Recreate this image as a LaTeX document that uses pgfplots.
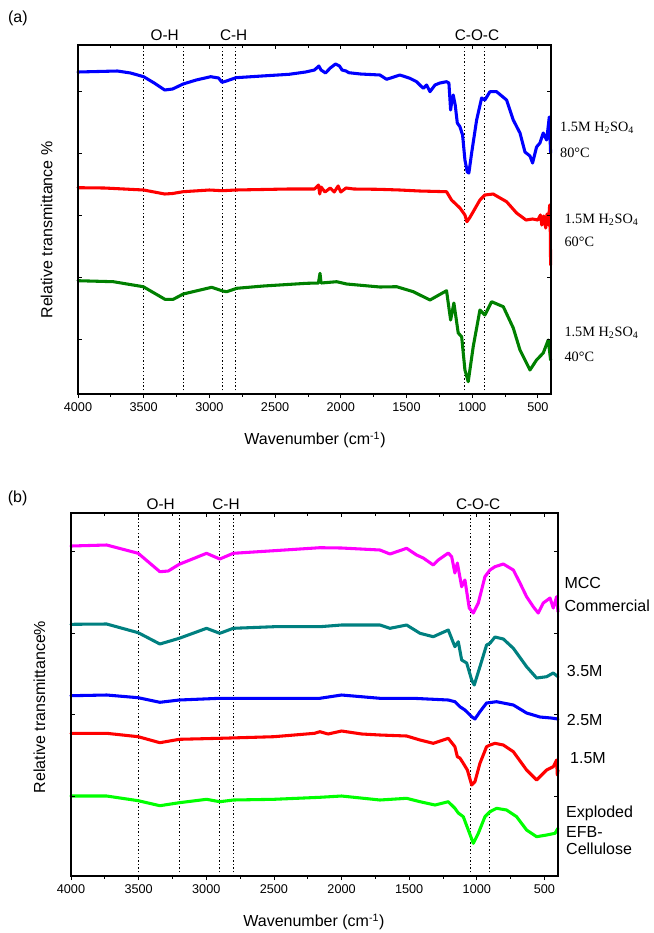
\documentclass[border=0pt]{standalone}
\usepackage{fontspec}
\setmainfont{Liberation Sans}
\newfontfamily\seriffont{Liberation Serif}
\usepackage{pgfplots}
\pgfplotsset{compat=1.18}

\definecolor{cblue}{RGB}{0,0,255}
\definecolor{cred}{RGB}{255,0,0}
\definecolor{cdgreen}{RGB}{0,128,0}
\definecolor{cmag}{RGB}{255,0,255}
\definecolor{cteal}{RGB}{0,128,128}
\definecolor{clgreen}{RGB}{0,255,0}

\pgfplotsset{
  ftir/.style={
    scale only axis, x dir=reverse, xmin=400, xmax=4000, ymin=0,
    clip=false,
    axis line style={line width=0.8pt},
    every tick/.style={black, line width=0.6pt},
    major tick length=3pt, minor tick length=2pt,
    tick label style={font=\fontsize{9.5}{11}\selectfont},
    /pgf/number format/assume math mode=true,
    xtick={500,1000,...,4000}, minor x tick num=1,
    scaled x ticks=false,
    xticklabel style={/pgf/number format/1000 sep={}},
  },
  % data axis: outward ticks on the bottom only
  ftirmain/.style={ftir, xtick pos=left, tick align=outside, ytick=\empty,
    extra x tick style={grid=major, major tick length=0pt,
      major grid style={black, line width=0.55pt, dash pattern=on 1.1pt off 1.6pt}},
    extra x tick labels={}},
  % frame axis: inward ticks on top, left and right
  ftirframe/.style={ftir, xtick pos=right, xticklabels={}, ytick pos=both,
    yticklabels={}, tick align=inside},
  spec/.style={line width=2.3pt, line join=round, line cap=round},
}
\tikzset{
  toplab/.style={font=\fontsize{11.5}{13}\selectfont},
  sidelab/.style={font=\fontsize{12}{14}\selectfont, anchor=west, inner sep=0pt},
  serlab/.style={font=\seriffont\fontsize{10.7}{12}\selectfont, anchor=west, inner sep=0pt},
}

\begin{document}
\begin{tikzpicture}
\useasboundingbox (0,0) rectangle (490.5pt,-699.75pt);

% ---------------- (a) ----------------
\begin{axis}[ftirmain, at={(58.5pt,-295.5pt)}, anchor=south west,
  width=354.75pt, height=261.75pt, ymax=349,
  extra x ticks={3500,3200,2900,2800,1062,905}]
\addplot[spec, cblue] table {
4000 322
3850 322.5
3700 323
3600 321
3500 317.3
3420 311
3340 304
3280 305
3200 310
3100 314
2990 317.3
2930 316
2904 311.7
2870 313
2798 316.3
2600 318
2394 319.7
2268 322
2200 324
2167 328
2150 324
2116 321
2080 326
2040 330
2010 328
1990 324
1960 323
1939 321.3
1850 320
1702 319
1651 314.7
1550 319
1474 315.7
1423 312.3
1398 309
1372 305.7
1347 309
1321 302.3
1283 309
1245 311
1195 312.3
1177 311
1164 284
1154 294
1144 299
1129 289
1113 271
1093 267.3
1073 259
1055 234
1037 222
1025 221
1004 241
966 274
928 296
903 294
865 302.3
814 302.3
738 294
687 274
636 261
598 242
560 238
540 231
510 247
484 251
459 261
433 254
413 277
403 241
};
\addplot[spec, cred] table {
4000 206.3
3800 206
3500 204
3340 200
3280 200.5
3200 202.3
3000 204
2900 203.3
2800 204
2400 205
2200 205
2170 209
2160 200
2150 207
2120 202
2080 206
2050 202
2020 208
2000 202
1960 206
1900 205
1712 204.7
1550 204
1400 203
1195 202.3
1157 194
1093 186
1055 179
1040 172.3
1020 176
992 182.3
941 194
903 199
840 200
738 192.3
662 181
590 174
540 175
500 174
480 179
470 169
455 178
440 166
430 180
420 169
410 189
405 160
403 129
};
\addplot[spec, cdgreen] table {
4000 113.3
3731 112.3
3503 107.3
3338 94.7
3275 94.7
3199 100
2983 106.7
2899 103
2868 102.3
2792 105.7
2589 108
2260 110.7
2170 111
2158 120.7
2150 111
2031 112.3
1955 110
1702 107
1575 107.3
1448 102.3
1321 94
1195 103.3
1164 74
1139 91
1106 61
1080 57.3
1055 24
1030 12.3
992 47.3
941 84
903 79
852 92.3
763 87.3
687 66
636 44
560 24
510 34
459 41
421 54
403 34
};
\node[font=\fontsize{12}{14}\selectfont] at (axis cs:4457,376) {(a)};
\node[toplab] at (axis cs:3340,359) {O-H};
\node[toplab] at (axis cs:2815,359) {C-H};
\node[toplab] at (axis cs:963,359) {C-O-C};
\node[font=\fontsize{12}{14}\selectfont, rotate=90] at (axis cs:4238,164) {Relative transmittance \%};
\node[font=\fontsize{12}{14}\selectfont] at (axis cs:2196,-46) {Wavenumber (cm\textsuperscript{-1})};
\node[serlab] at (axis cs:332,266) {1.5M H\textsubscript{2}SO\textsubscript{4}};
\node[serlab] at (axis cs:332,241) {80°C};
\node[serlab] at (axis cs:299,174) {1.5M H\textsubscript{2}SO\textsubscript{4}};
\node[serlab] at (axis cs:299,152) {60°C};
\node[serlab] at (axis cs:299,61) {1.5M H\textsubscript{2}SO\textsubscript{4}};
\node[serlab] at (axis cs:299,37) {40°C};
\end{axis}
\begin{axis}[ftirframe, at={(58.5pt,-295.5pt)}, anchor=south west,
  width=354.75pt, height=261.75pt, ymax=349,
  ytick={55,117,179,241,303}]
\end{axis}

% ---------------- (b) ----------------
\begin{axis}[ftirmain, at={(53.25pt,-657pt)}, anchor=south west,
  width=365.25pt, height=272.25pt, ymax=363,
  extra x ticks={3500,3200,2900,2800,1045,910}]
\addplot[spec, cmag] table {
4000 330
3736 331
3503 322.7
3343 304.3
3281 305
3200 311.7
2998 322.7
2900 317
2801 322.7
2500 325.3
2161 328.3
2000 328
1716 326
1642 322
1519 327.7
1445 321
1396 318
1322 311
1285 316
1211 323
1186 319.3
1162 303
1144 313
1112 289.3
1088 296
1056 268
1026 263
989 273
940 299.3
903 306
866 309.3
804 312
730 306
681 293
632 279.3
583 269.3
546 263
509 273
459 278
435 268
410 279.3
400 264.3
};
\addplot[spec, cteal] table {
4000 251.7
3736 252
3503 243.3
3343 232
3200 237.7
2998 247.7
2900 242.7
2801 247.7
2500 249.3
2161 249.3
2000 251
1716 251
1642 247.7
1519 251
1420 242.7
1322 239.3
1211 246
1162 229.3
1137 234.3
1112 216
1075 213
1038 196
1019 191
977 209.3
928 231
903 232.7
866 239
804 237
730 227.7
632 209.3
558 198
484 199.3
435 203
400 199.3
};
\addplot[spec, cblue] table {
4000 180.3
3736 181
3503 178.3
3343 173.7
3200 176
2900 177.7
2500 177.7
2161 177.7
2000 181
1716 177.7
1470 177.7
1211 176
1162 174.3
1125 169.3
1088 166
1038 159.3
1014 157
977 164.3
928 173
854 174.3
730 171
632 163
533 159
450 158
400 157
};
\addplot[spec, cred] table {
4000 142.7
3736 142.7
3503 139.3
3343 133.3
3200 136.7
2900 137.7
2500 139.3
2200 142.7
2160 144.3
2100 142
2000 145
1850 142
1716 141
1519 140
1420 136
1322 132.7
1211 137.7
1162 129.3
1144 119.3
1125 118
1100 112.7
1070 106
1038 91
1014 94.3
977 112.7
928 129.3
903 131
866 132.7
804 131
730 124.3
632 106
558 96
484 106
435 109.3
410 116
405 101
400 106
};
\addplot[spec, clgreen] table {
4000 80
3736 80
3503 75.3
3343 70.3
3200 73.3
2998 76.7
2900 74.3
2800 76
2500 76.7
2161 78.7
2000 80
1716 76
1519 77.7
1420 74.3
1309 71
1211 74.3
1162 67.7
1137 63
1100 59.3
1063 46
1026 32.7
989 42.7
940 59.3
903 64.3
854 67.7
780 66
706 59.3
632 46
558 39.3
484 41
422 42.7
400 47.7
};
\node[font=\fontsize{12}{14}\selectfont] at (axis cs:4395,378) {(b)};
\node[toplab] at (axis cs:3337,372) {O-H};
\node[toplab] at (axis cs:2854,372) {C-H};
\node[toplab] at (axis cs:990,372) {C-O-C};
\node[font=\fontsize{12}{14}\selectfont, rotate=90] at (axis cs:4234,169) {Relative transmittance\%};
\node[font=\fontsize{12}{14}\selectfont] at (axis cs:2204,-46) {Wavenumber (cm\textsuperscript{-1})};
\node[sidelab] at (axis cs:353,293) {MCC};
\node[sidelab] at (axis cs:353,270) {Commercial};
\node[sidelab] at (axis cs:336,205.3) {3.5M};
\node[sidelab] at (axis cs:336,156) {2.5M};
\node[sidelab] at (axis cs:312,118) {1.5M};
\node[sidelab] at (axis cs:341,63) {Exploded};
\node[sidelab] at (axis cs:341,44) {EFB-};
\node[sidelab] at (axis cs:341,27) {Cellulose};
\end{axis}
\begin{axis}[ftirframe, at={(53.25pt,-657pt)}, anchor=south west,
  width=365.25pt, height=272.25pt, ymax=363,
  ytick={79.7,161.3,243,324.6}]
\end{axis}
\end{tikzpicture}
\end{document}
